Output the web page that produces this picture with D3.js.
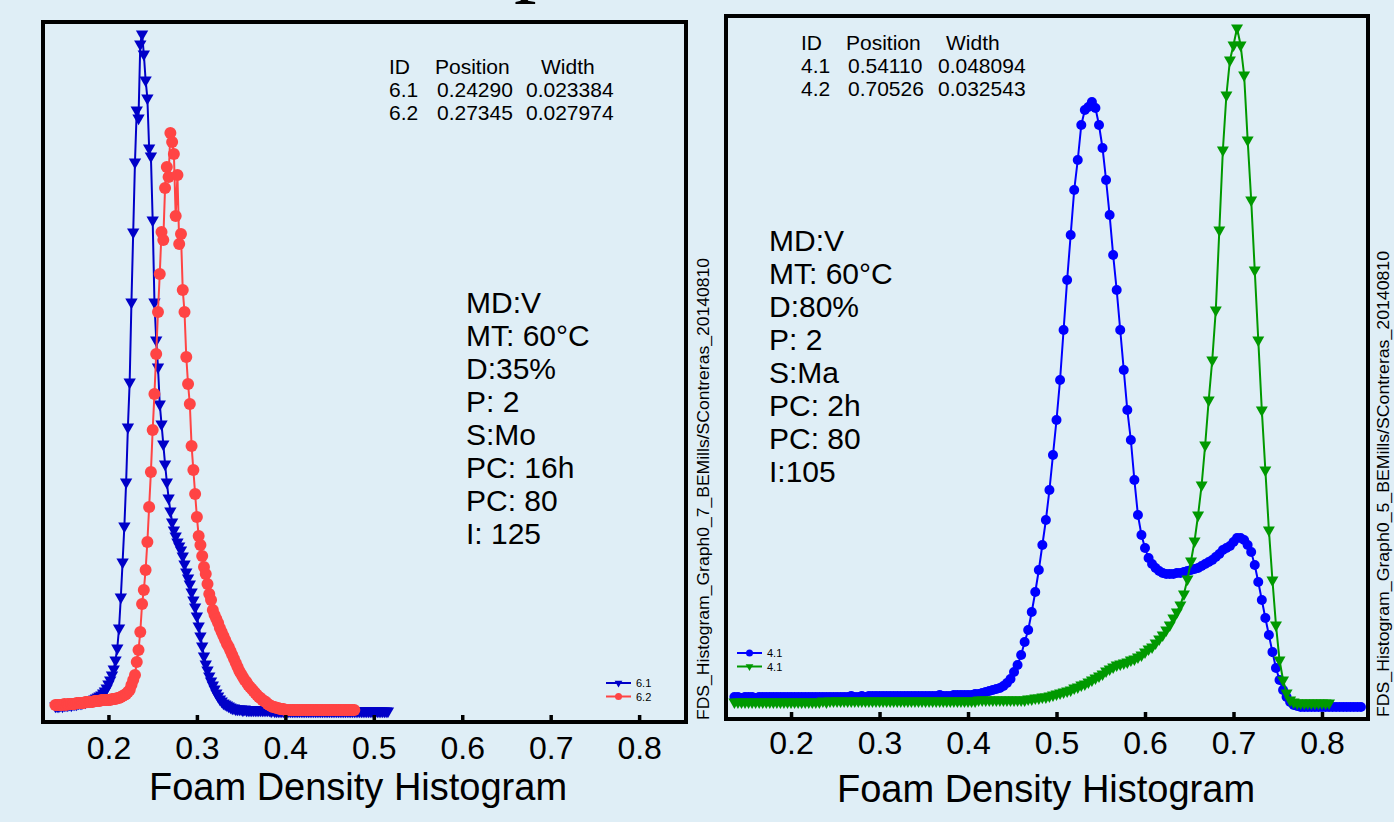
<!DOCTYPE html>
<html>
<head>
<meta charset="utf-8">
<script src="https://cdn.jsdelivr.net/npm/d3@7/dist/d3.min.js"></script>
<style>
body { margin: 0; background: #dfeef6; }
svg { display: block; }
text { font-family: "Liberation Sans", Arial, sans-serif; }
</style>
</head>
<body>
<script>
// Canvas
const w = 1394;
const h = 822;

// Shared axis ticks
const tickValues = [0.2, 0.3, 0.4, 0.5, 0.6, 0.7, 0.8];
const axisTitle = "Foam Density Histogram";

// Left graph (sample 6) - histogram bins start/step, counts per bin
const binStart6 = 0.14;
const binStep6 = 0.002;
const counts61 = [
	16, 16, 16, 17, 16, 17, 17, 17, 18, 17,
	18, 18, 18, 19, 19, 19, 20, 20, 21, 21,
	22, 22, 23, 24, 25, 26, 27, 29, 31, 34,
	38, 42, 47, 53, 62, 74, 94, 125, 160, 196,
	240, 295, 340, 420, 490, 560, 612, 604, 678, 688,
	668, 642, 624, 574, 566, 502, 420, 382, 355, 318,
	298, 278, 258, 240, 224, 211, 200, 192, 186, 180,
	176, 172, 166, 158, 150, 144, 138, 130, 122, 115,
	106, 96, 86, 76, 66, 58, 52, 46, 41, 37,
	33, 29, 26, 23, 21, 19, 18, 17, 16, 15,
	14, 14, 13, 13, 13, 13, 12, 13, 12, 12,
	12, 12, 12, 12, 12, 12, 12, 12, 12, 12,
	12, 12, 11, 12, 11, 11, 11, 11, 11, 11,
	11, 11, 11, 11, 11, 11, 11, 11, 11, 11,
	11, 11, 11, 11, 11, 11, 11, 11, 11, 11,
	11, 11, 11, 11, 11, 11, 11, 11, 11, 11,
	11, 11, 11, 11, 11, 11, 11, 11, 11, 11,
	11, 11, 11, 11, 11, 11, 11, 11, 11, 11,
	11, 11, 11, 11, 11, 11, 11, 11, 11
];
const counts62 = [
	17, 17, 17, 17, 17, 18, 17, 18, 18, 18,
	18, 18, 19, 19, 19, 19, 19, 20, 20, 20,
	20, 20, 21, 21, 21, 21, 22, 22, 22, 22,
	22, 22, 23, 23, 23, 24, 24, 25, 26, 27,
	28, 30, 32, 37, 42, 47, 60, 72, 90, 118,
	132, 152, 180, 215, 250, 292, 328, 368, 410, 448,
	490, 482, 534, 555, 545, 589, 580, 568, 506, 547,
	478, 488, 432, 410, 365, 338, 318, 276, 252, 228,
	205, 186, 177, 166, 155, 148, 138, 128, 122, 112,
	107, 103, 99, 94, 90, 86, 82, 78, 75, 71,
	67, 63, 59, 55, 51, 48, 45, 42, 40, 37,
	35, 33, 31, 29, 27, 25, 24, 22, 21, 20,
	18, 17, 16, 15, 15, 14, 14, 13, 13, 13,
	12, 12, 12, 12, 12, 12, 12, 12, 12, 12,
	12, 12, 12, 12, 12, 12, 12, 12, 12, 12,
	12, 12, 12, 12, 12, 12, 12, 12, 12, 12,
	12, 12, 12, 12, 12, 12, 12, 12, 12, 12
];

// Right graph (sample 4)
const binStart4 = 0.136;
const binStep4 = 0.004;
const counts41 = [
	22, 22, 21, 22, 22, 22, 21, 22, 22, 22,
	22, 22, 22, 22, 22, 22, 22, 22, 22, 22,
	22, 22, 22, 22, 22, 22, 22, 22, 22, 22,
	22, 22, 22, 23, 22, 22, 23, 22, 23, 23,
	23, 23, 23, 23, 23, 23, 23, 23, 23, 23,
	23, 23, 23, 23, 23, 23, 23, 23, 24, 23,
	23, 23, 24, 24, 24, 24, 24, 24, 25, 25,
	26, 27, 28, 29, 30, 31, 33, 36, 40, 47,
	54, 64, 77, 89, 107, 127, 149, 174, 199, 229,
	264, 299, 339, 389, 439, 484, 529, 559, 594, 609,
	612, 617, 611, 594, 571, 539, 504, 464, 429, 389,
	349, 309, 279, 239, 204, 184, 171, 161, 155, 151,
	148, 146, 145, 145, 145, 146, 146, 147, 148, 149,
	150, 151, 153, 155, 157, 159, 162, 165, 169, 171,
	173, 177, 181, 181, 179, 174, 167, 154, 137, 119,
	101, 84, 67, 51, 39, 29, 22, 17, 14, 13,
	12, 12, 12, 12, 12, 12, 12, 12, 12, 12,
	12, 12, 12, 12, 12, 12, 12, 12
];
const counts42 = [
	17, 17, 17, 17, 17, 17, 17, 17, 17, 17,
	17, 17, 17, 17, 17, 17, 17, 17, 17, 17,
	17, 17, 17, 17, 17, 18, 17, 18, 18, 18,
	18, 18, 18, 18, 18, 18, 18, 18, 18, 18,
	18, 18, 18, 18, 18, 18, 18, 18, 18, 18,
	18, 18, 18, 18, 18, 18, 18, 18, 18, 18,
	18, 18, 18, 18, 18, 18, 18, 18, 18, 19,
	19, 19, 19, 19, 19, 19, 19, 19, 19, 19,
	19, 19, 19, 20, 20, 21, 21, 22, 22, 23,
	24, 25, 26, 27, 28, 29, 31, 32, 34, 35,
	37, 39, 41, 43, 45, 48, 50, 52, 54, 55,
	56, 57, 59, 60, 62, 64, 67, 70, 72, 76,
	80, 84, 89, 94, 101, 107, 114, 125, 140, 158,
	178, 204, 234, 274, 319, 359, 409, 489, 569, 624,
	659, 674, 691, 674, 644, 579, 519, 449, 379, 309,
	249, 189, 139, 94, 59, 39, 26, 19, 17, 16,
	16, 16, 16, 16, 16, 16, 16, 16, 16
];

// Peak fit tables and sample notes
const tableHeader = ["ID", "Position", "Width"];
const peakIds6 = ["6.1", "6.2"];
const peakPos6 = ["0.24290", "0.27345"];
const peakWidth6 = ["0.023384", "0.027974"];
const peakIds4 = ["4.1", "4.2"];
const peakPos4 = ["0.54110", "0.70526"];
const peakWidth4 = ["0.048094", "0.032543"];
const notes6 = ["MD:V", "MT: 60°C", "D:35%", "P: 2", "S:Mo", "PC: 16h", "PC: 80", "I: 125"];
const notes4 = ["MD:V", "MT: 60°C", "D:80%", "P: 2", "S:Ma", "PC: 2h", "PC: 80", "I:105"];
const legend6 = ["6.1", "6.2"];
const legend4 = ["4.1", "4.1"];
const stamp6 = "FDS_Histogram_Graph0_7_BEMills/SContreras_20140810";
const stamp4 = "FDS_Histogram_Graph0_5_BEMills/SContreras_20140810";

const toPoints = (start, step, counts) =>
	counts.map((c, i) => ({ x: +(start + i * step).toFixed(4), y: c }));

const svg = d3.select("body").append("svg").attr("width", w).attr("height", h);

// cropped glyph of a slide title above the charts
svg
	.append("text")
	.attr("x", 514)
	.attr("y", -15)
	.style("font-family", "'Liberation Serif', serif")
	.style("font-size", "90px")
	.text("p");

function drawPanel(p) {
	const g = svg.append("g");
	const xScale = d3.scaleLinear().domain(p.xDomain).range([p.left, p.right]);
	const yScale = d3.scaleLinear().domain([0, p.yMax]).range([p.bottom, p.top]);

	const clipId = "clip" + p.id;
	svg
		.append("clipPath")
		.attr("id", clipId)
		.append("rect")
		.attr("x", p.left)
		.attr("y", p.top)
		.attr("width", p.right - p.left)
		.attr("height", p.bottom - p.top);

	const plot = g.append("g").attr("clip-path", `url(#${clipId})`);
	const line = d3
		.line()
		.x((d) => xScale(d.x))
		.y((d) => yScale(d.y));

	p.series.forEach((s) => {
		plot
			.append("path")
			.datum(s.points)
			.attr("fill", "none")
			.attr("stroke", s.color)
			.attr("stroke-width", 2)
			.attr("d", line);
		if (s.marker === "circle") {
			plot
				.selectAll(null)
				.data(s.points)
				.enter()
				.append("circle")
				.attr("cx", (d) => xScale(d.x))
				.attr("cy", (d) => yScale(d.y))
				.attr("r", s.size)
				.attr("fill", s.color);
		} else {
			const tri = d3.symbol(d3.symbolTriangle, s.size)();
			plot
				.selectAll(null)
				.data(s.points)
				.enter()
				.append("path")
				.attr("d", tri)
				.attr("transform", (d) => `translate(${xScale(d.x)},${yScale(d.y)}) rotate(180)`)
				.attr("fill", s.color);
		}
	});

	// x axis, ticks inward
	const axis = g
		.append("g")
		.attr("transform", `translate(0,${p.bottom})`)
		.call(
			d3.axisBottom(xScale).tickValues(tickValues).tickSize(-7).tickPadding(p.tickPad).tickFormat(d3.format(".1f")),
		);
	axis.select(".domain").remove();
	axis.selectAll(".tick line").attr("stroke", "#000").attr("stroke-width", 3.5);
	axis
		.selectAll(".tick text")
		.attr("fill", "#000")
		.style("font-family", "'Liberation Sans', Arial, sans-serif")
		.style("font-size", "32px");

	// frame
	g.append("rect")
		.attr("x", p.left)
		.attr("y", p.top)
		.attr("width", p.right - p.left)
		.attr("height", p.bottom - p.top)
		.attr("fill", "none")
		.attr("stroke", "#000")
		.attr("stroke-width", 4);

	// axis title
	g.append("text")
		.attr("x", p.titleX)
		.attr("y", p.titleY)
		.attr("text-anchor", "middle")
		.style("font-size", "38px")
		.text(axisTitle);

	// peak table
	const tbl = g.append("g").style("font-size", "21px");
	tableHeader.forEach((t, i) => {
		tbl.append("text").attr("x", p.table.headX[i]).attr("y", p.table.y0).text(t);
	});
	p.table.rows.forEach((row, r) => {
		row.forEach((t, i) => {
			tbl
				.append("text")
				.attr("x", p.table.rowX[i])
				.attr("y", p.table.y0 + (r + 1) * 23)
				.text(t);
		});
	});

	// sample notes
	const notes = g.append("g").style("font-size", "30px");
	p.notes.forEach((t, i) => {
		notes
			.append("text")
			.attr("x", p.notesX)
			.attr("y", p.notesY + i * 33)
			.text(t);
	});

	// legend
	const lg = g.append("g").style("font-size", "11px");
	p.series.forEach((s, i) => {
		const ly = p.legend.y + i * 13.5;
		lg.append("line")
			.attr("x1", p.legend.x)
			.attr("x2", p.legend.x + 25)
			.attr("y1", ly)
			.attr("y2", ly)
			.attr("stroke", s.color)
			.attr("stroke-width", 2);
		if (s.marker === "circle") {
			lg.append("circle").attr("cx", p.legend.x + 12.5).attr("cy", ly).attr("r", 3.5).attr("fill", s.color);
		} else {
			lg.append("path")
				.attr("d", d3.symbol(d3.symbolTriangle, 26)())
				.attr("transform", `translate(${p.legend.x + 12.5},${ly}) rotate(180)`)
				.attr("fill", s.color);
		}
		lg.append("text")
			.attr("x", p.legend.x + 30)
			.attr("y", ly + 4)
			.text(p.legend.labels[i]);
	});

	// vertical file stamp
	g.append("text")
		.attr("transform", `translate(${p.stamp.x},${p.stamp.y}) rotate(-90)`)
		.attr("textLength", p.stamp.len)
		.attr("lengthAdjust", "spacingAndGlyphs")
		.style("font-size", "16px")
		.text(p.stamp.text);
}

drawPanel({
	id: 6,
	left: 43,
	right: 686,
	top: 22,
	bottom: 722,
	yMax: 700,
	xDomain: [0.126, 0.853],
	tickPad: 14,
	titleX: 358,
	titleY: 800,
	series: [
		{ points: toPoints(binStart6, binStep6, counts61), color: "#0000c8", marker: "triangle", size: 66 },
		{ points: toPoints(binStart6, binStep6, counts62), color: "#ff4444", marker: "circle", size: 6 },
	],
	table: {
		headX: [389, 435, 541],
		rowX: [389, 437, 526],
		y0: 74,
		rows: peakIds6.map((id, i) => [id, peakPos6[i], peakWidth6[i]]),
	},
	notes: notes6,
	notesX: 466,
	notesY: 313,
	legend: { x: 606, y: 683, labels: legend6 },
	stamp: { x: 709, y: 720, len: 462, text: stamp6 },
});

drawPanel({
	id: 4,
	left: 726,
	right: 1368,
	top: 16,
	bottom: 719,
	yMax: 703,
	xDomain: [0.1265, 0.852],
	tickPad: 12,
	titleX: 1046,
	titleY: 802,
	series: [
		{ points: toPoints(binStart4, binStep4, counts41), color: "#0000ff", marker: "circle", size: 5 },
		{ points: toPoints(binStart4, binStep4, counts42), color: "#009900", marker: "triangle", size: 62 },
	],
	table: {
		headX: [801, 846, 946],
		rowX: [801, 848, 938],
		y0: 50,
		rows: peakIds4.map((id, i) => [id, peakPos4[i], peakWidth4[i]]),
	},
	notes: notes4,
	notesX: 769,
	notesY: 251,
	legend: { x: 737, y: 653, labels: legend4 },
	stamp: { x: 1389, y: 717, len: 466, text: stamp4 },
});
</script>
</body>
</html>
